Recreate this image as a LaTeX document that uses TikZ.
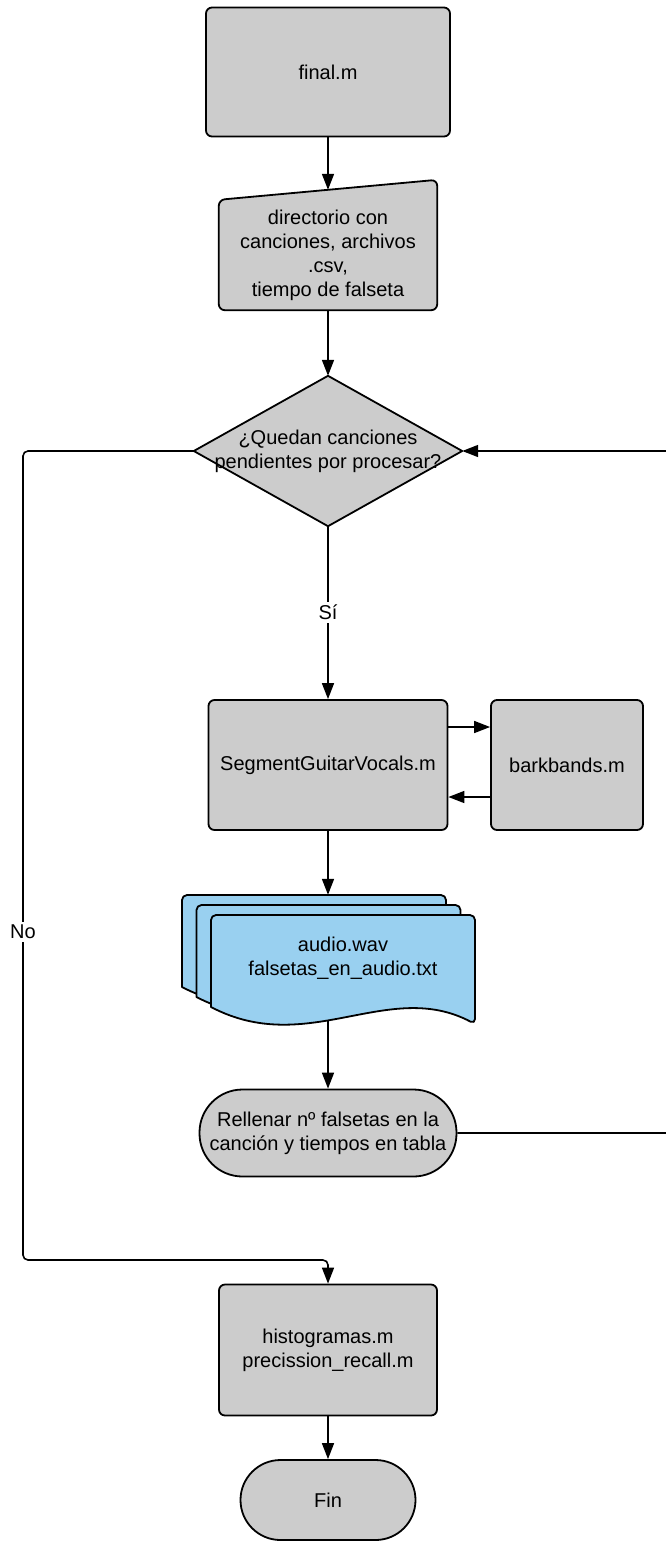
\documentclass[tikz,border=0pt]{standalone}
\usepackage{fontspec}
\setmainfont{Liberation Sans}
\usetikzlibrary{calc,positioning,arrows.meta,backgrounds}
\definecolor{boxgray}{RGB}{204,204,204}
\definecolor{docblue}{RGB}{153,208,240}

\begin{document}
\begin{tikzpicture}[x=1pt,y=-1pt]
     \useasboundingbox (0,0) rectangle (665,1543);

     \tikzstyle{every node}=[font=\fontsize{20}{24}\selectfont,align=center]
     \tikzstyle{proc}=[draw,line width=1.8pt,fill=boxgray,rounded corners=6pt,inner sep=0pt]
     \tikzstyle{term}=[proc,rounded corners=40pt]
     \tikzstyle{outline}=[draw,line width=1.8pt,fill=boxgray,line join=round]
     \tikzstyle{sheet}=[draw,line width=1.8pt,fill=docblue,line join=round]
     \tikzstyle{conn}=[line width=1.6pt,-{Triangle[length=16pt,width=12pt]}]

     \node[proc,minimum width=244,minimum height=129](start) at (328,72){final.m};
     \node at ($(start)+(0,183)$)[minimum width=218,minimum height=110,inner sep=0pt](input){directorio con\\canciones, archivos\\.csv,\\tiempo de falseta};
     \node at ($(input)+(0,196)$)[minimum width=268,minimum height=150,inner sep=0pt](dec){¿Quedan canciones\\pendientes por procesar?};
     \node at ($(dec)+(0,314)$)[proc,minimum width=239,minimum height=130](segment){SegmentGuitarVocals.m};
     \node at ($(segment)+(239,0)$)[proc,minimum width=152,minimum height=130](bark){barkbands.m};
     \node at ($(segment)+(0,193)$)[minimum width=293,minimum height=126,inner sep=0pt](docs){};

     % stack of output files
     \foreach \dx/\dy in {-29/-20,-14.5/-10,0/0}{
       \begin{scope}[shift={($(docs)+(\dx,\dy)$)}]
         \draw[sheet](-117,49)[rounded corners=5pt]--(-117,-43)--(147,-43)--(147,66)[sharp corners]
           .. controls (60,20) and (-20,100) .. cycle;
       \end{scope}
     }
     \node at ($(docs)+(15,0)$)(docstext){audio.wav\\falsetas\_en\_audio.txt};

     \node at ($(docs)+(0,175)$)[term,minimum width=257,minimum height=87,rounded corners=43pt](record){Rellenar nº falsetas en la\\canción y tiempos en tabla};
     \node at ($(record)+(0,217)$)[proc,minimum width=218,minimum height=131](hist){histogramas.m\\precission\_recall.m};
     \node at ($(hist)+(0,150)$)[term,minimum width=175,minimum height=80](stop){Fin};

     \begin{scope}[on background layer]
       \draw[outline](input.south west)[rounded corners=6pt]--(input.north west)--($(input.north east)+(0,-20)$)--(input.south east)--cycle;
       \draw[outline](dec.north)--(dec.east)--(dec.south)--(dec.west)--cycle;
     \end{scope}

     \coordinate (nobend) at (23,1260);
     \draw[conn](start)--($(input.north)+(0,-10)$);
     \draw[conn](input)--(dec);
     \draw[conn](dec)--(segment)node[midway,fill=white,inner sep=3pt](yes){Sí};
     \draw[conn]([yshift=38pt]segment.east)--([yshift=38pt]bark.west);
     \draw[conn]([yshift=-32pt]bark.west)--([yshift=-32pt]segment.east);
     \draw[conn](segment)--(docs);
     \draw[conn](docs)--(record);
     \draw[conn,rounded corners=5pt](record.east)--++(218,0)|-(dec.east);
     \draw[conn,rounded corners=5pt](dec.west)-|(nobend)--(nobend -| hist.north)--(hist.north);
     \draw[conn](hist)--(stop);
     \node at (23,932)[fill=white,inner sep=3pt](no){No};

\end{tikzpicture}
\end{document}
